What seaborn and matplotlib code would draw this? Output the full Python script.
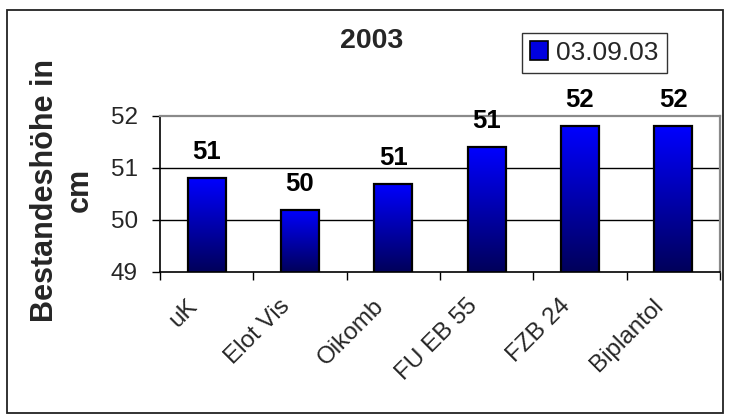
import matplotlib
matplotlib.use("Agg")
import matplotlib.pyplot as plt
import seaborn as sns
import numpy as np
from matplotlib.patches import Rectangle, Patch
from matplotlib.ticker import FixedLocator
from matplotlib.transforms import ScaledTranslation
from matplotlib.colors import LinearSegmentedColormap

categories = ["uK", "Elot Vis", "Oikomb", "FU EB 55", "FZB 24", "Biplantol"]
values = [50.8, 50.2, 50.7, 51.4, 51.8, 51.8]
series_name = "03.09.03"
title = "2003"
ylabel = "Bestandeshöhe in\ncm"
yticks = [49, 50, 51, 52]

sns.set_theme(style="white")
plt.rcParams['font.family'] = ['Liberation Sans', 'DejaVu Sans']

W, H = 730, 416
fig = plt.figure(figsize=(W / 100, H / 100), dpi=100)
fig.patch.set_facecolor("white")

# outer border
fig.add_artist(Rectangle((7 / W, 1 - 413 / H), (723 - 7) / W, (413 - 10) / H,
                         transform=fig.transFigure, fill=False,
                         edgecolor="#222222", linewidth=1.3))

ax = fig.add_axes([160 / W, 1 - 272 / H, (720 - 160) / W, (272 - 116) / H])
ax.set_facecolor("white")

sns.barplot(x=categories, y=values, ax=ax, width=0.41, color="#0000ff",
            edgecolor="black", linewidth=1.6, saturation=1, zorder=3)

ax.set_ylim(49, 52)
ax.set_xlim(-0.5, len(categories) - 0.5)

# gradient fill for bars
grad = np.linspace(0, 1, 256).reshape(-1, 1)
cmap = LinearSegmentedColormap.from_list("bl", ["#00005a", "#0000ff"])
for p in ax.patches:
    x0 = p.get_x()
    w = p.get_width()
    top = p.get_y() + p.get_height()
    im = ax.imshow(grad, extent=[x0, x0 + w, 49, top], origin="lower",
                   cmap=cmap, aspect="auto", zorder=2.5, interpolation="bicubic")
    im.set_clip_path(p)
    p.set_facecolor("none")

ax.set_xlim(-0.5, len(categories) - 0.5)
ax.set_ylim(49, 52)

# gridlines
for yv in yticks[1:-1]:
    ax.axhline(yv, color="black", linewidth=1.0, zorder=1)

for s in ["top", "right"]:
    ax.spines[s].set_color("#8a8a8a")
    ax.spines[s].set_linewidth(1.6)
for s in ["left", "bottom"]:
    ax.spines[s].set_color("black")
    ax.spines[s].set_linewidth(1.2)

ax.set_yticks(yticks)
ax.set_yticklabels([str(t) for t in yticks], fontsize=17.5)
ax.tick_params(axis="y", direction="out", length=6, width=1, color="black",
               pad=10, left=True)

ax.set_xticks(range(len(categories)))
ax.set_xticklabels(categories, fontsize=17.5, rotation=45, ha="right",
                   va="center", rotation_mode="anchor")
ax.xaxis.set_minor_locator(FixedLocator(np.arange(-0.5, len(categories), 1.0)))
ax.tick_params(axis="x", which="major", length=0, pad=22)
ax.tick_params(axis="x", which="minor", direction="out", length=6, width=1,
               color="black", bottom=True)
shift = ScaledTranslation(-13 / 100, 0, fig.dpi_scale_trans)
for lab in ax.get_xticklabels():
    lab.set_transform(lab.get_transform() + shift)
ax.set_xlabel("")
ax.set_ylabel("")

# value labels
for i, v in enumerate(values):
    ax.annotate(f"{round(v)}", (i, v), xytext=(0, 13.7), textcoords="offset points",
                ha="center", va="baseline", fontsize=18.5, fontweight="bold",
                color="black", annotation_clip=False)

# title
fig.text(371.5 / W, 1 - 41 / H, title, ha="center", va="center",
         fontsize=20.5, fontweight="bold")

# y label
fig.text(62 / W, 1 - 190 / H, ylabel, ha="center", va="center", rotation=90,
         fontsize=22, fontweight="bold", multialignment="center", linespacing=1.2)

# legend
handle = Patch(facecolor="#0000e0", edgecolor="black", linewidth=1.2)
leg = fig.legend([handle], [series_name], loc="upper left",
                 bbox_to_anchor=(522 / W, 1 - 33 / H), bbox_transform=fig.transFigure,
                 fontsize=19, frameon=True, fancybox=False, shadow=False,
                 handlelength=0.7, handleheight=0.7, handletextpad=0.3,
                 borderpad=0.3, borderaxespad=0)
leg.get_frame().set_edgecolor("black")
leg.get_frame().set_linewidth(1.0)

fig.savefig("out.png", dpi=100, facecolor="white")
